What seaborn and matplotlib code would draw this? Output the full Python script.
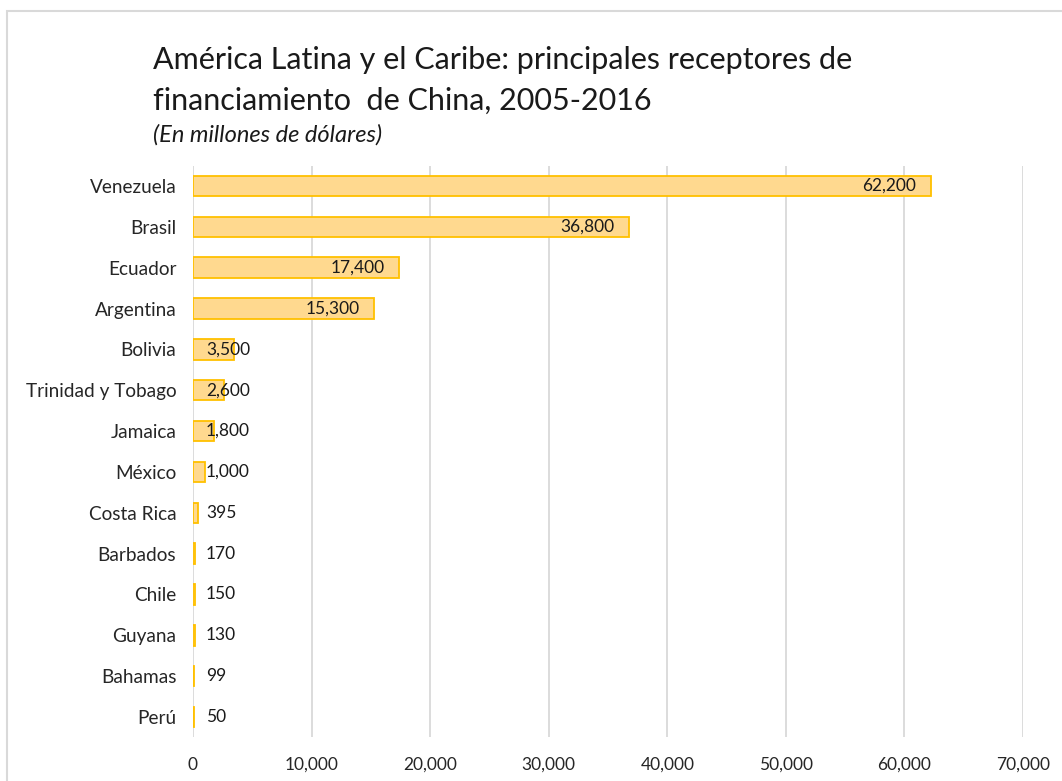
import matplotlib
matplotlib.use("Agg")
import matplotlib.pyplot as plt
import matplotlib.ticker as mticker
import seaborn as sns
import pandas as pd

# datos (millones de dólares)
paises = ["Venezuela", "Brasil", "Ecuador", "Argentina", "Bolivia",
          "Trinidad y Tobago", "Jamaica", "México", "Costa Rica", "Barbados",
          "Chile", "Guyana", "Bahamas", "Perú"]
montos = [62200, 36800, 17400, 15300, 3500, 2600, 1800, 1000, 395, 170,
          150, 130, 99, 50]
xticks = [0, 10000, 20000, 30000, 40000, 50000, 60000, 70000]

titulo = "América Latina y el Caribe: principales receptores de\nfinanciamiento  de China, 2005-2016"
subtitulo = "(En millones de dólares)"

sns.set_theme(style="white")
plt.rcParams["font.family"] = ["Lato", "DejaVu Sans"]

df = pd.DataFrame({"pais": paises, "monto": montos})

fig = plt.figure(figsize=(10.62, 7.81), dpi=100)
ax = fig.add_axes([0.1817, 0.0558, 0.7816, 0.7322])

# marco del gráfico
fig.patches.append(plt.Rectangle((7 / 1062, -0.1), 1.2, 1 - 11 / 781 + 0.1,
                                 transform=fig.transFigure, fill=False,
                                 edgecolor="#D9D9D9", linewidth=1.5))

sns.barplot(data=df, y="pais", x="monto", orient="h", ax=ax, width=0.5,
            color="#FFD98F", edgecolor="#FFC000", linewidth=1.3, saturation=1)

ax.set_xlim(0, 70000)
ax.set_ylim(13.5, -0.5)
ax.set_xticks(xticks)
ax.xaxis.set_major_formatter(mticker.FuncFormatter(lambda v, p: f"{int(v):,}"))
ax.grid(axis="x", color="#D9D9D9", linewidth=1.3)
ax.set_axisbelow(True)
sns.despine(ax=ax, left=True, bottom=True)
ax.tick_params(axis="both", length=0, colors="#262626")
ax.tick_params(axis="x", pad=14, labelsize=12.5)
ax.tick_params(axis="y", pad=12, labelsize=13.7)
ax.set_xlabel("")
ax.set_ylabel("")

# etiquetas de datos
for i, v in enumerate(montos):
    txt = f"{v:,}"
    if v > 6500:
        ax.annotate(txt, (v, i), xytext=(-15, 0), textcoords="offset pixels",
                    ha="right", va="center", fontsize=12.5, color="#1a1a1a")
    else:
        ax.annotate(txt, (0, i), xytext=(13, 0), textcoords="offset pixels",
                    ha="left", va="center", fontsize=12.5, color="#1a1a1a")

fig.text(153 / 1062, 1 - 80 / 781, titulo, fontsize=22, color="#1a1a1a",
         ha="left", va="center", linespacing=1.55)
fig.text(153 / 1062, 1 - 135 / 781, subtitulo, fontsize=17, style="italic",
         color="#1a1a1a", ha="left", va="center")

fig.savefig("out.png", dpi=100)
